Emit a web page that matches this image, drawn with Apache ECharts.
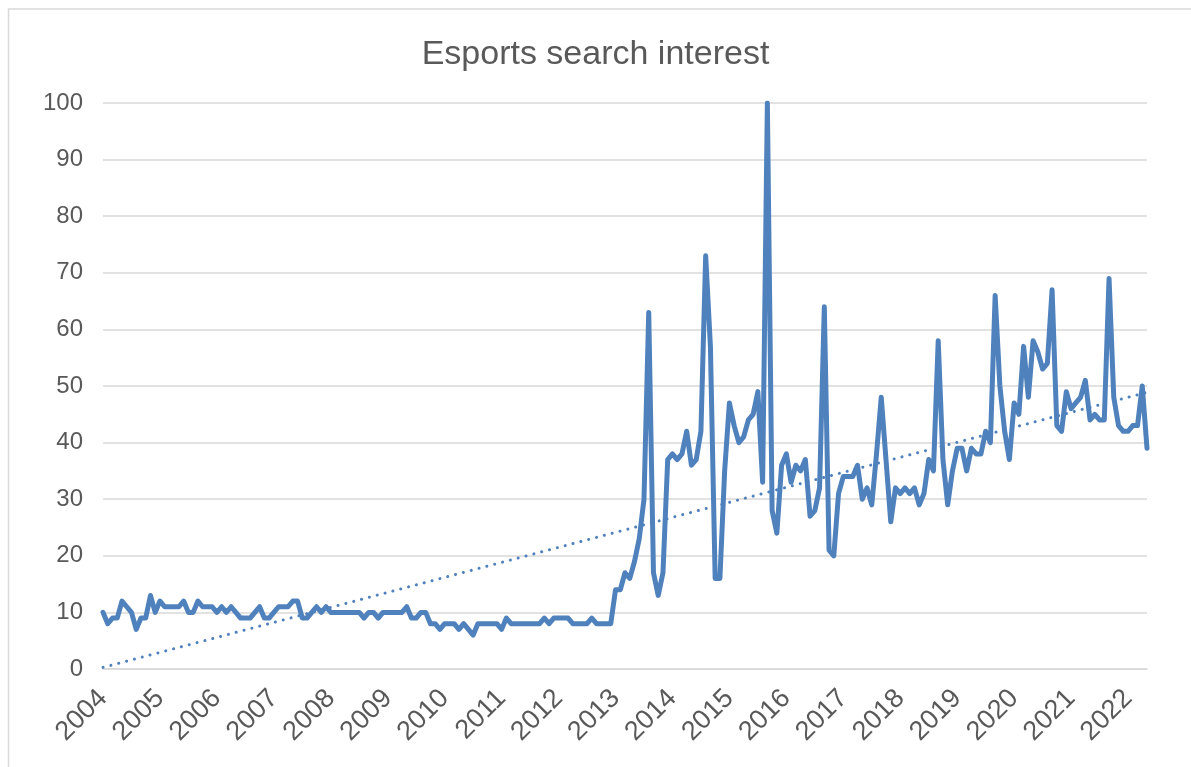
<!DOCTYPE html>
<html>
<head>
<meta charset="utf-8">
<title>Esports search interest</title>
<script src="https://cdn.jsdelivr.net/npm/echarts@6/dist/echarts.min.js"></script>
<style>
  html, body { margin: 0; padding: 0; background: #ffffff; }
  #chart { width: 1191px; height: 767px; }
</style>
</head>
<body>
<div id="chart"></div>
<script>
// Monthly search interest for "esports", Jan 2004 – May 2022 (peak = 100)
const startYear = 2004;
const yearLabels = ['2004','2005','2006','2007','2008','2009','2010','2011','2012',
                    '2013','2014','2015','2016','2017','2018','2019','2020','2021','2022'];

const interest2004to2008 = [
  10, 8, 9, 9, 12, 11, 10, 7, 9, 9, 13, 10,
  12, 11, 11, 11, 11, 12, 10, 10, 12, 11, 11, 11,
  10, 11, 10, 11, 10, 9, 9, 9, 10, 11, 9, 9,
  10, 11, 11, 11, 12, 12, 9, 9, 10, 11, 10, 11,
  10, 10, 10, 10, 10, 10, 10, 9, 10, 10, 9, 10
];
const interest2009to2012 = [
  10, 10, 10, 10, 11, 9, 9, 10, 10, 8, 8, 7,
  8, 8, 8, 7, 8, 7, 6, 8, 8, 8, 8, 8,
  7, 9, 8, 8, 8, 8, 8, 8, 8, 9, 8, 9,
  9, 9, 9, 8, 8, 8, 8, 9, 8, 8, 8, 8
];
const interest2013to2017 = [
  14, 14, 17, 16, 19, 23, 30, 63, 17, 13, 17, 37,
  38, 37, 38, 42, 36, 37, 42, 73, 57, 16, 16, 35,
  47, 43, 40, 41, 44, 45, 49, 33, 100, 28, 24, 36,
  38, 33, 36, 35, 37, 27, 28, 32, 64, 21, 20, 31,
  34, 34, 34, 36, 30, 32, 29, 38, 48, 37, 26, 32
];
const interest2018to2022 = [
  31, 32, 31, 32, 29, 31, 37, 35, 58, 37, 29, 35,
  39, 39, 35, 39, 38, 38, 42, 40, 66, 50, 42, 37,
  47, 45, 57, 48, 58, 56, 53, 54, 67, 43, 42, 49,
  46, 47, 48, 51, 44, 45, 44, 44, 69, 48, 43, 42,
  42, 43, 43, 50, 39
];

const interest = [].concat(interest2004to2008, interest2009to2012,
                           interest2013to2017, interest2018to2022);

// month categories "YYYY-MM"
const months = interest.map((_, i) => {
  const y = startYear + Math.floor(i / 12);
  const m = (i % 12) + 1;
  return y + '-' + (m < 10 ? '0' + m : m);
});

// least-squares linear trend over the month index
function linearTrend(values) {
  const n = values.length;
  let sx = 0, sy = 0, sxy = 0, sxx = 0;
  values.forEach((v, i) => { sx += i; sy += v; sxy += i * v; sxx += i * i; });
  const slope = (n * sxy - sx * sy) / (n * sxx - sx * sx);
  const icpt = (sy - slope * sx) / n;
  return values.map((_, i) => +(icpt + slope * i).toFixed(3));
}
const trend = linearTrend(interest);

const textColor = '#595959';
const gridColor = '#d9d9d9';
const lineColor = '#4f81bd';
const fontFamily = '"Liberation Sans", Arial, sans-serif';

const chart = echarts.init(document.getElementById('chart'), null, { renderer: 'canvas' });

chart.setOption({
  animation: false,
  backgroundColor: '#ffffff',
  title: {
    text: 'Esports search interest',
    left: 'center',
    top: 33,
    textStyle: { color: textColor, fontSize: 34, fontWeight: 'normal', fontFamily: fontFamily }
  },
  graphic: [{
    type: 'rect',
    shape: { x: 8.5, y: 9, width: 1400, height: 1000 },
    style: { fill: 'none', stroke: gridColor, lineWidth: 1.5 },
    silent: true
  }],
  grid: { left: 103, right: 44, top: 103, bottom: 98, containLabel: false },
  xAxis: {
    type: 'category',
    data: months,
    boundaryGap: false,
    axisLine: { show: true, lineStyle: { color: gridColor, width: 1.5 } },
    axisTick: { show: false },
    splitLine: { show: false },
    axisLabel: {
      rotate: 45,
      margin: 25,
      color: textColor,
      fontSize: 27,
      fontFamily: fontFamily,
      interval: (index) => index % 12 === 0,
      formatter: (value) => yearLabels[parseInt(value.slice(0, 4), 10) - startYear]
    }
  },
  yAxis: {
    type: 'value',
    min: 0,
    max: 100,
    interval: 10,
    axisLine: { show: false },
    axisTick: { show: false },
    splitLine: { lineStyle: { color: gridColor, width: 1.5 } },
    axisLabel: { color: textColor, fontSize: 24, fontFamily: fontFamily, margin: 20 }
  },
  series: [
    {
      name: 'esports',
      type: 'line',
      data: interest,
      showSymbol: false,
      symbol: 'none',
      lineStyle: { color: lineColor, width: 5, join: 'round', cap: 'round' },
      z: 3
    },
    {
      name: 'Linear trend',
      type: 'line',
      data: trend,
      showSymbol: false,
      symbol: 'none',
      lineStyle: { color: lineColor, width: 3, type: [0.1, 8], cap: 'round' },
      z: 2
    }
  ]
});
</script>
</body>
</html>
